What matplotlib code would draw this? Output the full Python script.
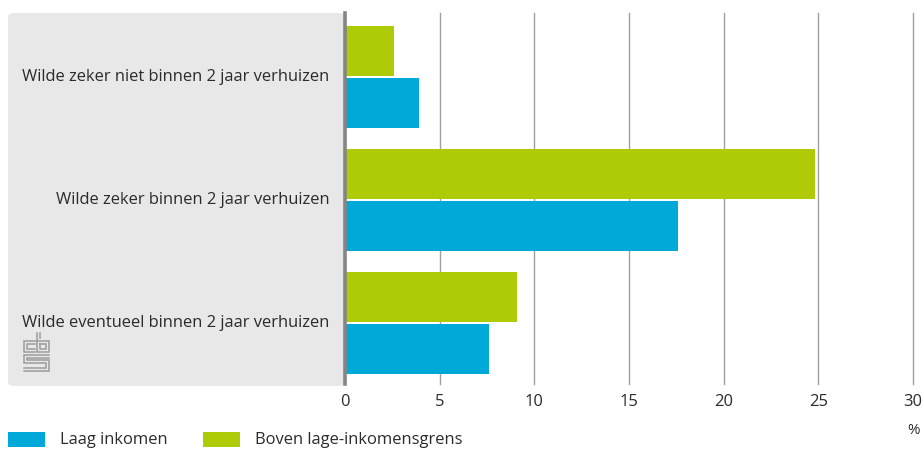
import matplotlib
matplotlib.use("Agg")
import matplotlib.pyplot as plt
from matplotlib.patches import FancyBboxPatch, Rectangle
from matplotlib.lines import Line2D

# Data
categories = [
    "Wilde zeker niet binnen 2 jaar verhuizen",
    "Wilde zeker binnen 2 jaar verhuizen",
    "Wilde eventueel binnen 2 jaar verhuizen",
]
series_names = ["Laag inkomen", "Boven lage-inkomensgrens"]
laag_inkomen = [3.9, 17.6, 7.6]
boven_grens = [2.6, 24.8, 9.1]
x_ticks = [0, 5, 10, 15, 20, 25, 30]
unit_label = "%"

BLUE = "#00a9d7"
GREEN = "#afcb08"
TEXT = "#2b2b2b"
FONT = ["Open Sans", "DejaVu Sans"]
FS = 11.9

plt.rcParams["font.family"] = FONT

W, H = 924, 451
fig = plt.figure(figsize=(W / 100, H / 100), dpi=100)

# Grey label panel with rounded corners behind the category labels
panel = FancyBboxPatch((8 / W, 1 - 386 / H), (345 - 8) / W, (386 - 13) / H,
                       boxstyle="round,pad=0,rounding_size=0.008",
                       transform=fig.transFigure, facecolor="#e8e8e8",
                       edgecolor="none", zorder=0)
fig.patches.append(panel)

ax = fig.add_axes([345 / W, 1 - 384 / H, (913 - 345) / W, (384 - 13) / H])
ax.set_zorder(2)
ax.set_facecolor("none")

bar_h = 0.404
off = 0.211
ypos = list(range(len(categories)))
ax.barh([y - off for y in ypos], boven_grens, height=bar_h, color=GREEN, zorder=3)
ax.barh([y + off for y in ypos], laag_inkomen, height=bar_h, color=BLUE, zorder=3)

ax.set_xlim(0, 30)
ax.set_ylim(2.498, -0.52)
ax.set_xticks(x_ticks)
ax.set_xticklabels([str(t) for t in x_ticks], fontsize=FS, color=TEXT)
ax.tick_params(axis="x", length=0, pad=7)
ax.set_yticks(ypos)
ax.set_yticklabels(categories, fontsize=FS, color=TEXT)
ax.tick_params(axis="y", length=0, pad=11)
for lbl in ax.get_yticklabels():
    lbl.set_va("center")

for t in x_ticks[1:]:
    ax.axvline(t, color="#a0a0a0", lw=1.0, zorder=1, clip_on=False)
ax.axvline(0, color="#858585", lw=2.6, zorder=4, clip_on=False)
for s in ax.spines.values():
    s.set_visible(False)

fig.text(913 / W, 1 - 430 / H, unit_label, fontsize=FS - 1, color=TEXT,
         ha="center", va="center")

# Legend
legend_x = [8, 203]
for name, col, lx in zip(series_names, [BLUE, GREEN], legend_x):
    fig.patches.append(Rectangle((lx / W, 1 - 447 / H), 37 / W, 15 / H,
                                 transform=fig.transFigure, facecolor=col,
                                 edgecolor="none"))
    fig.text((lx + 52) / W, 1 - 440 / H, name, fontsize=FS, color=TEXT,
             ha="left", va="center")

# Small CBS logo mark
lc = "#9c9c9c"
def seg(xs, ys):
    fig.add_artist(Line2D([x / W for x in xs], [1 - y / H for y in ys],
                          transform=fig.transFigure, color=lc, lw=1.1,
                          solid_joinstyle="miter", zorder=3))
# "c"
seg([35, 24, 24, 35], [341, 341, 352, 352])
seg([35, 27, 27, 35], [344, 344, 349, 349])
# "b"
seg([37, 37, 49, 49, 37], [333, 352, 352, 341, 341])
seg([40, 40], [333, 338])
seg([40, 46, 46, 40, 40], [344, 344, 349, 349, 344])
# "s"
seg([49, 24, 24, 46, 46, 24], [355, 355, 363, 363, 368, 368])
seg([49, 27, 27, 49, 49, 24], [358, 358, 360, 360, 371, 371])

fig.savefig("out.png", dpi=100)
